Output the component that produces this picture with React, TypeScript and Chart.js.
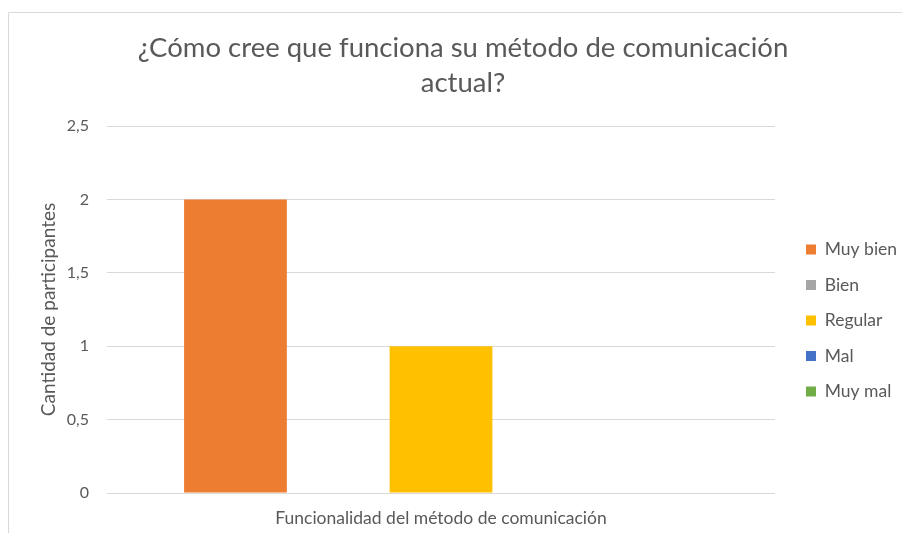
import React, { useEffect, useRef } from "react";
import { Chart, registerables } from "chart.js";

Chart.register(...registerables);

const titleLines = ["¿Cómo cree que funciona su método de comunicación", "actual?"];
const categories = ["Funcionalidad del método de comunicación"];
const seriesNames = ["Muy bien", "Bien", "Regular", "Mal", "Muy mal"];
const muyBien = [2];
const bien = [0];
const regular = [1];
const mal = [0];
const muyMal = [0];
const seriesColors = ["#ED7D31", "#A5A5A5", "#FFC000", "#4472C4", "#70AD47"];
const yTickLabels = ["0", "0,5", "1", "1,5", "2", "2,5"];
const yAxisTitle = "Cantidad de participantes";

const FONT = "Lato, 'Open Sans', sans-serif";
const TEXT = "#595959";
const GRID = "#D9D9D9";

const framePlugin = {
  id: "frame",
  beforeDraw(chart: any) {
    const ctx = chart.ctx;
    ctx.save();
    ctx.fillStyle = "#FFFFFF";
    ctx.fillRect(0, 0, chart.width, chart.height);
    ctx.strokeStyle = GRID;
    ctx.lineWidth = 1;
    ctx.beginPath();
    ctx.moveTo(8.5, chart.height);
    ctx.lineTo(8.5, 12.5);
    ctx.lineTo(chart.width, 12.5);
    ctx.stroke();
    ctx.restore();
  },
};

export default function App() {
  const ref = useRef<HTMLCanvasElement | null>(null);

  useEffect(() => {
    if (!ref.current) return;
    const values = [muyBien, bien, regular, mal, muyMal];
    const padL = 24;
    const chart = new Chart(ref.current, {
      type: "bar",
      data: {
        labels: categories,
        datasets: seriesNames.map((name, i) => ({
          label: name,
          data: values[i],
          backgroundColor: seriesColors[i],
          borderWidth: 0,
          categoryPercentage: 5 / 6.5,
          barPercentage: 1,
          yAxisID: "y",
        })),
      },
      options: {
        animation: false,
        responsive: false,
        devicePixelRatio: 1,
        layout: { padding: { left: padL, right: 0, top: 0, bottom: 0 } },
        plugins: {
          title: {
            display: true,
            text: titleLines,
            color: TEXT,
            font: { family: FONT, size: 27.5, weight: "normal", lineHeight: 35 / 27.5 },
            padding: { top: 31, bottom: 25 },
          },
          legend: {
            display: true,
            position: "right",
            fullSize: false,
            align: "center",
            maxWidth: 114,
            title: { display: true, text: "", font: { size: 11 }, padding: { top: 4.4, bottom: 4.4 } },
            labels: {
              boxWidth: 10,
              boxHeight: 10,
              padding: 18,
              color: TEXT,
              font: { family: FONT, size: 17.5 },
            },
          },
          tooltip: { enabled: false },
        },
        scales: {
          x: {
            grid: { display: false },
            border: { display: false },
            ticks: { color: TEXT, font: { family: FONT, size: 17.5 }, padding: 7 },
            afterFit: (s: any) => {
              s.height = 40;
            },
          },
          y: {
            min: 0,
            max: 2.5,
            grid: { color: GRID, drawTicks: false, lineWidth: 1 },
            border: { display: false },
            ticks: {
              stepSize: 0.5,
              padding: 18,
              color: TEXT,
              font: { family: FONT, size: 16 },
              callback: (_v: any, i: number) => yTickLabels[i],
            },
            title: {
              display: true,
              text: yAxisTitle,
              color: TEXT,
              font: { family: FONT, size: 19 },
              padding: { top: 13.6, bottom: 0 },
            },
            afterFit: (s: any) => {
              s.width = 107 - padL;
            },
          },
          gap: {
            type: "linear",
            position: "right",
            display: true,
            grid: { display: false },
            border: { display: false },
            ticks: { display: false },
            afterFit: (s: any) => {
              s.width = 13;
            },
          },
        },
      },
      plugins: [framePlugin],
    } as any);
    return () => chart.destroy();
  }, []);

  return (
    <div style={{ position: "fixed", left: 0, top: 0, width: 902, height: 533, background: "#fff" }}>
      <canvas ref={ref} width={902} height={533} style={{ display: "block" }} />
    </div>
  );
}
